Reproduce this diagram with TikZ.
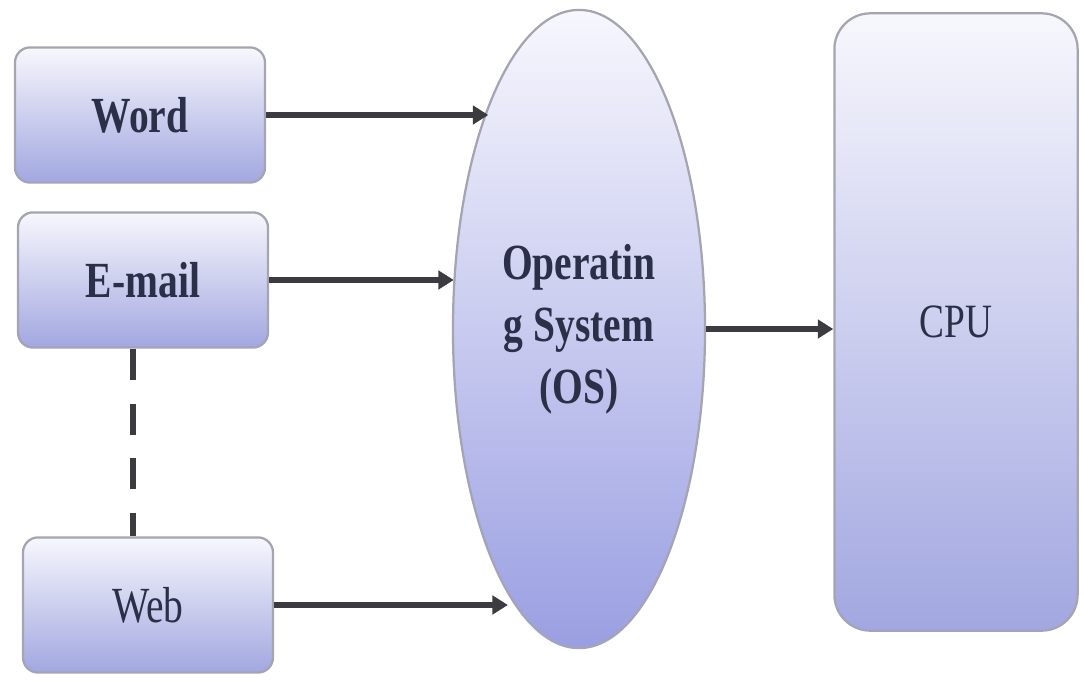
\documentclass[tikz,border=0pt]{standalone}
\usepackage{fontspec}
\setmainfont{Liberation Serif}[FakeStretch=0.78]
\usetikzlibrary{shapes.geometric,arrows.meta}

\definecolor{lightfill}{HTML}{F7F7FD}
\definecolor{darkfill}{HTML}{A2A7E0}
\definecolor{rimgray}{HTML}{A4A4B2}
\definecolor{inkblue}{HTML}{2B3048}
\definecolor{arrowgray}{HTML}{3C3C40}

\tikzset{
	appbox/.style={draw=rimgray, line width=1.6pt, rounded corners=0.38cm,
		top color=lightfill, bottom color=darkfill,
		minimum width=6.25cm, minimum height=3.38cm, inner sep=0pt,
		text=inkblue, font=\fontsize{36}{44}\selectfont},
	osell/.style={ellipse, draw=rimgray, line width=1.6pt,
		top color=lightfill, bottom color=darkfill!95!blue,
		minimum width=6.3cm, minimum height=15.95cm, inner sep=0pt,
		text=inkblue, align=center, font=\fontsize{36}{44}\selectfont\bfseries},
	cpubox/.style={draw=rimgray, line width=1.6pt, rounded corners=0.9cm,
		top color=lightfill, bottom color=darkfill,
		minimum width=6.08cm, minimum height=15.43cm, inner sep=0pt,
		text=inkblue, font=\fontsize{34}{44}\selectfont},
	flow/.style={draw=arrowgray, line width=4.2pt,
		-{Triangle[length=11pt,width=13pt]}},
	dashlink/.style={draw=arrowgray, line width=3.6pt,
		dash pattern=on 22pt off 17pt}
}

\begin{document}
\begin{tikzpicture}[x=0.025cm, y=-0.025cm]
	\useasboundingbox (0,0) rectangle (1084,681);

	\node[appbox, font=\fontsize{36}{44}\selectfont\bfseries] (word) at (140,115) {Word};
	\node[appbox, font=\fontsize{36}{44}\selectfont\bfseries] (email) at (143,280) {E-mail};
	\node[appbox] (web) at (148,605) {Web};
	\node[osell] (os) at (579,329) {Operatin\\g System\\(OS)};
	\node[cpubox] (cpu) at (956,322) {CPU};

	% applications to the OS
	\foreach \a / \ang in {
	word/112.7,
	email/156.5,
	web/255.7}
	{
		\path[flow] (\a.east) -- (\a.east -| os.\ang);
	};
	\path[flow] (os.east) -- (os.east -| cpu.west);

	\path[dashlink] ([xshift=-0.25cm]email.south) -- ([xshift=-0.25cm]email.south |- web.north);
\end{tikzpicture}
\end{document}
